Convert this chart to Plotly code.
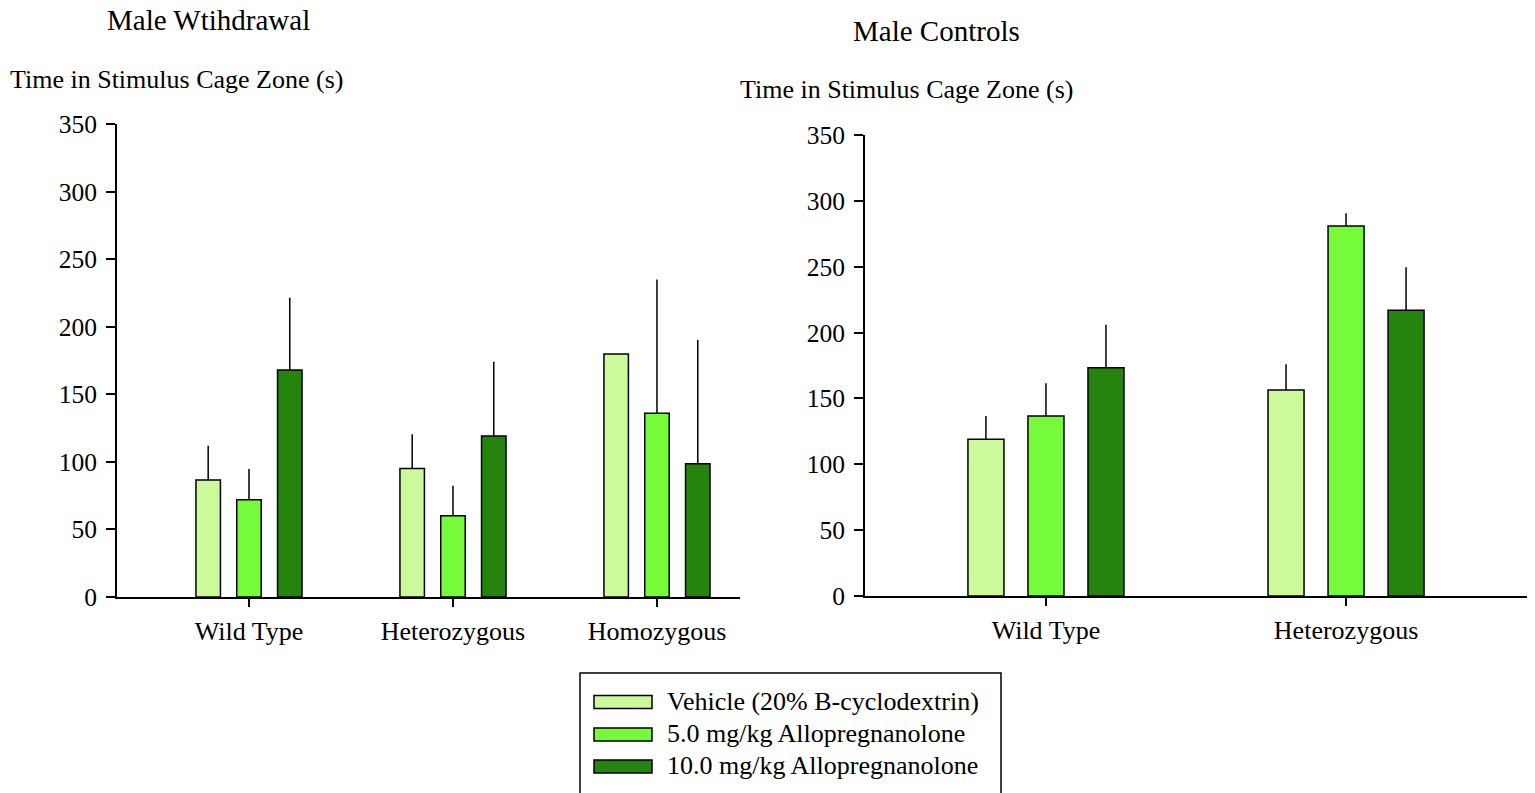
import plotly.graph_objects as go

# ---- data ----
series_names = ["Vehicle (20% B-cyclodextrin)", "5.0 mg/kg Allopregnanolone", "10.0 mg/kg Allopregnanolone"]
colors = ["#CCF99A", "#75FB3A", "#25840D"]

withdrawal_groups = ["Wild Type", "Heterozygous", "Homozygous"]
withdrawal_means = [
    [86.6, 95.0, 179.8],
    [72.0, 60.2, 135.9],
    [168.0, 119.1, 98.6],
]
withdrawal_sem = [
    [25.4, 25.4, 0.0],
    [22.7, 22.2, 99.1],
    [53.5, 55.0, 91.6],
]

control_groups = ["Wild Type", "Heterozygous"]
control_means = [
    [119.0, 156.4],
    [136.7, 280.9],
    [173.3, 216.9],
]
control_sem = [
    [17.7, 19.5],
    [24.8, 9.7],
    [32.7, 32.7],
]

y_ticks = [0, 50, 100, 150, 200, 250, 300, 350]
panel_titles = ["Male Wtihdrawal", "Male Controls"]
y_title = "Time in Stimulus Cage Zone (s)"

# ---- figure ----
W, H = 1535, 793
FONT = "Liberation Serif"
offsets = [-0.26, -0.06, 0.14]
bar_w = 0.12

fig = go.Figure()

def add_panel(groups, means, sems, xa, ya):
    for i in range(3):
        fig.add_trace(go.Bar(
            x=groups, y=means[i], name=series_names[i],
            marker=dict(color=colors[i], line=dict(color="black", width=1.5)),
            width=bar_w, offset=offsets[i],
            error_y=dict(type="data", symmetric=False, array=sems[i],
                         arrayminus=[0] * len(groups), width=0,
                         color="black", thickness=1.5),
            xaxis=xa, yaxis=ya, showlegend=False,
        ))

add_panel(withdrawal_groups, withdrawal_means, withdrawal_sem, "x", "y")
add_panel(control_groups, control_means, control_sem, "x2", "y2")

def px_x(v):
    return v / W

def px_y(v):
    return 1 - v / H

common_x = dict(type="category", showline=True, linecolor="black", linewidth=2,
                ticks="outside", ticklen=8, tickwidth=1.5, tickcolor="black",
                showgrid=False, zeroline=False, automargin=False,
                tickfont=dict(family=FONT, size=26, color="black"), ticklabelstandoff=2)
common_y = dict(showline=True, linecolor="black", linewidth=2, range=[0, 350],
                tickvals=y_ticks, ticks="outside", ticklen=9, tickwidth=1.5,
                tickcolor="black", showgrid=False, zeroline=False, automargin=False,
                tickfont=dict(family=FONT, size=25.5, color="black"),
                ticklabelstandoff=4)

fig.update_layout(
    template="none",
    width=W, height=H,
    margin=dict(l=0, r=0, t=0, b=0, pad=0),
    paper_bgcolor="white", plot_bgcolor="white",
    barmode="overlay",
    font=dict(family=FONT, color="black"),
    xaxis=dict(common_x, domain=[px_x(117), px_x(740)], range=[-0.647, 2.407], anchor="y"),
    yaxis=dict(common_y, domain=[px_y(597), px_y(124)], anchor="x"),
    xaxis2=dict(common_x, domain=[px_x(865), px_x(1527)], range=[-0.603, 1.603], anchor="y2"),
    yaxis2=dict(common_y, domain=[px_y(596), px_y(135)], anchor="x2"),
)

annots = [
    dict(text=panel_titles[0], x=px_x(208.5), y=px_y(20), size=29),
    dict(text=panel_titles[1], x=px_x(936.5), y=px_y(31), size=29),
    dict(text=y_title, x=px_x(176), y=px_y(80), size=26),
    dict(text=y_title, x=px_x(906.5), y=px_y(90), size=26),
]
for a in annots:
    fig.add_annotation(text=a["text"], x=a["x"], y=a["y"], xref="paper", yref="paper",
                       xanchor="center", yanchor="middle", showarrow=False,
                       font=dict(family=FONT, size=a["size"], color="black"))

# ---- custom legend ----
fig.add_shape(type="rect", xref="paper", yref="paper",
              x0=px_x(580), x1=px_x(1001), y0=px_y(673), y1=px_y(800),
              line=dict(color="black", width=1.5), fillcolor="white")
leg_y = [702, 734.5, 766.5]
for i in range(3):
    fig.add_shape(type="rect", xref="paper", yref="paper",
                  x0=px_x(594), x1=px_x(652), y0=px_y(leg_y[i] - 6.5), y1=px_y(leg_y[i] + 6.5),
                  line=dict(color="black", width=1.5), fillcolor=colors[i])
    fig.add_annotation(text=series_names[i], x=px_x(665), y=px_y(leg_y[i] - 1),
                       xref="paper", yref="paper", xanchor="left", yanchor="middle",
                       showarrow=False, font=dict(family=FONT, size=26, color="black"))

fig.write_html("out.html")
